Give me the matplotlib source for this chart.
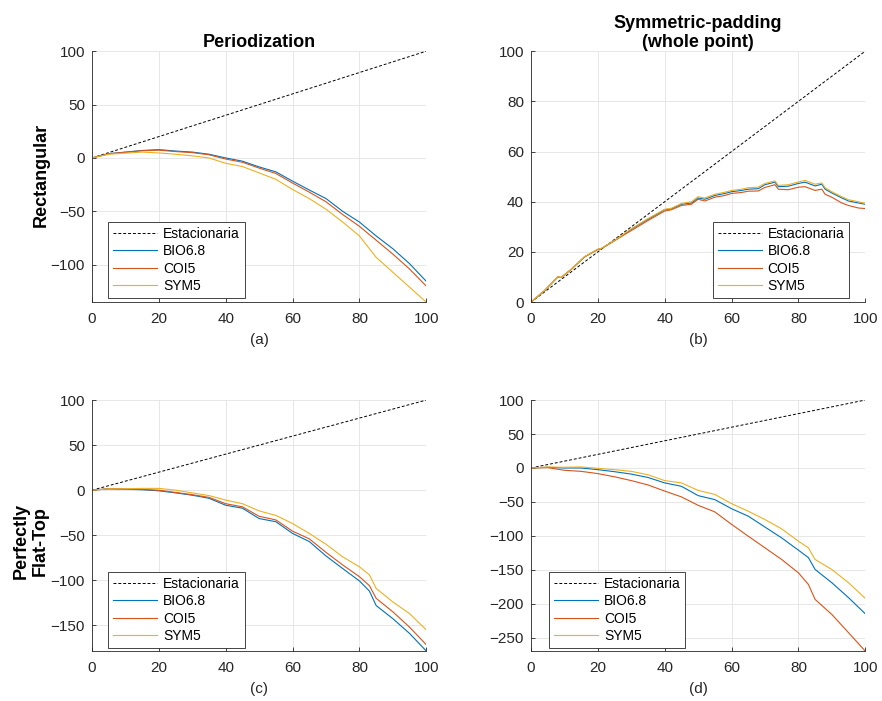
import numpy as np
import matplotlib
matplotlib.use("Agg")
import matplotlib.pyplot as plt

plt.rcParams['font.family'] = ['Liberation Sans', 'DejaVu Sans']

# panel (a) Rectangular / Periodization
x_a = [0, 5, 10, 15, 20, 25, 30, 35, 40, 45, 50, 55, 60, 65, 70, 75, 80, 85, 90, 95, 100]
bio_a = [0, 4, 5.5, 7, 7.8, 6.5, 5.5, 3.5, 0, -3, -8.4, -13, -21.7, -30, -38, -50, -60, -73, -85, -99, -115.5]
coi_a = [0, 4, 5.3, 6.8, 7.3, 6, 5, 3, -1, -4, -9.5, -14.5, -23.5, -32, -41, -53, -64, -77, -90, -104, -120]
sym_a = [0, 3.5, 4.5, 5.5, 4.7, 3.5, 2, 0, -5, -8, -14, -20, -29.5, -38, -48, -60, -73, -93, -107, -121, -135]

# panel (b) Rectangular / Symmetric-padding
x_b = [0, 4, 8, 9, 12, 16, 20, 21, 25, 30, 35, 40, 42, 45, 48, 50, 52, 55, 58, 60, 63, 65, 68, 70,
       73, 74, 77, 80, 82, 85, 87, 88, 90, 93, 95, 98, 100]
bio_b = [0, 4.5, 10, 9.8, 13, 18, 21, 21.3, 24.5, 29, 33, 36.8, 37.2, 39, 39.5, 41.5, 41, 42.5, 43.3, 44,
         44.5, 45, 45.2, 46.8, 47.8, 46, 46.2, 47.3, 47.8, 46.3, 47, 45, 43.5, 41.5, 40.3, 39.5, 39]
coi_b = [0, 4.5, 10, 9.8, 13, 18, 21, 21.3, 24.5, 28.5, 32.5, 36.3, 36.8, 38.5, 39, 41, 40.3, 41.8, 42.5, 43.3,
         43.7, 44.2, 44.3, 45.7, 46.8, 45, 44.8, 45.8, 46, 44.5, 45, 43, 41.8, 39.5, 38.5, 37.5, 37.3]
sym_b = [0, 4.6, 10.1, 9.9, 13.1, 18.1, 21.1, 21.4, 24.6, 29.2, 33.3, 37, 37.4, 39.3, 40, 42, 41.5, 43, 43.8, 44.5,
         45, 45.6, 45.8, 47.3, 48.3, 46.5, 46.8, 47.9, 48.5, 47, 47.5, 45.6, 44, 42, 40.8, 40, 39.4]

# panel (c) Perfectly Flat-Top / Periodization
x_c = [0, 5, 10, 15, 20, 25, 30, 35, 40, 45, 50, 55, 60, 65, 70, 75, 80, 83, 85, 90, 95, 100]
bio_c = [0, 1.5, 1, 0.5, -0.7, -3, -5.6, -9, -16.7, -20, -31.5, -35, -48, -57, -73, -87, -100.7, -112, -128, -142.6, -159, -178.5]
coi_c = [0, 1.5, 1.2, 0.8, 0, -2.5, -5, -8, -15, -18.5, -29, -33, -45.5, -54, -69, -83, -96, -106, -120, -135, -152, -171.5]
sym_c = [0, 1.5, 1.5, 2, 2, 0, -3, -6, -11, -15, -23, -28, -37, -48, -60, -74, -85, -94, -109, -124, -137, -155]

# panel (d) Perfectly Flat-Top / Symmetric-padding
x_d = [0, 5, 10, 15, 20, 25, 30, 35, 40, 45, 50, 55, 60, 65, 70, 75, 80, 83, 85, 90, 95, 100]
bio_d = [0, 1, 0, 0, -2.5, -5.5, -9, -14, -22, -27, -40.7, -46.6, -60, -71, -87, -103, -121, -132, -149.5, -169, -191, -214.7]
coi_d = [0, 0.5, -3.4, -5, -8.3, -13, -18.6, -25, -34, -42.6, -55, -64.7, -83, -100.5, -117.6, -134.8, -154.4, -171.6, -193.6, -215.7, -242.6, -269.6]
sym_d = [0, 1.5, 1, 1.5, -0.5, -2.5, -5, -10, -18.6, -22, -33, -39, -52.5, -63.7, -76, -89.7, -107.8, -117.6, -134.8, -149.5, -169, -192]

x_est = [0, 100]
y_est = [0, 100]

labels = ['Estacionaria', 'BIO6.8', 'COI5', 'SYM5']
colors = ['#0072BD', '#D95319', '#EDB120']
col_titles = ['Periodization', 'Symmetric-padding\n(whole point)']
row_titles = ['Rectangular', 'Perfectly\nFlat-Top']
panel_labels = ['(a)', '(b)', '(c)', '(d)']

panels = [
    (x_a, [bio_a, coi_a, sym_a], [-100, -50, 0, 50, 100], 'lower left', (0.048, 0.016)),
    (x_b, [bio_b, coi_b, sym_b], [0, 20, 40, 60, 80, 100], 'lower right', (0.952, 0.016)),
    (x_c, [bio_c, coi_c, sym_c], [-150, -100, -50, 0, 50, 100], 'lower left', (0.048, 0.012)),
    (x_d, [bio_d, coi_d, sym_d], [-250, -200, -150, -100, -50, 0, 50, 100], 'lower left', (0.054, 0.012)),
]

fig = plt.figure(figsize=(8.82, 7.01), dpi=100)
lefts = [0.1043, 0.602]
bottoms = [0.569, 0.0713]
w, h = 0.379, 0.358

txt = '#262626'
for i, (xs, ys, yt, loc, anchor) in enumerate(panels):
    r, c = divmod(i, 2)
    ax = fig.add_axes([lefts[c], bottoms[r], w, h])
    ax.plot(x_est, y_est, '--', color='k', lw=0.7, dashes=(3, 2), label=labels[0])
    for y, col, lab in zip(ys, colors, labels[1:]):
        ax.plot(xs, y, color=col, lw=0.8, label=lab)
    ymin = min(min(y) for y in ys)
    ax.set_xlim(0, 100)
    ax.set_ylim(min(ymin, 0), 100)
    ax.set_xticks([0, 20, 40, 60, 80, 100])
    ax.set_yticks(yt)
    ax.grid(True, color='#e3e3e3', lw=0.6)
    ax.set_axisbelow(True)
    for s in ['top', 'right']:
        ax.spines[s].set_visible(False)
    for s in ['left', 'bottom']:
        ax.spines[s].set_color(txt)
        ax.spines[s].set_linewidth(0.6)
    ax.tick_params(direction='in', length=3, width=0.6, labelsize=11, colors=txt)
    ax.tick_params(axis='x', pad=7)
    ax.tick_params(axis='y', pad=5)
    ax.set_xlabel(panel_labels[i], fontsize=11, color=txt, labelpad=5)
    if r == 0:
        ax.set_title(col_titles[c], fontsize=13, fontweight='bold', pad=2)
    leg = ax.legend(loc=loc, bbox_to_anchor=anchor, borderaxespad=0, fontsize=10,
                    fancybox=False, framealpha=1, edgecolor=txt, borderpad=0.35,
                    labelspacing=0.25, handlelength=3.2, handletextpad=0.4)
    leg.get_frame().set_linewidth(0.6)

fig.text(0.047, 0.75, row_titles[0], rotation=90, fontsize=13, fontweight='bold',
         ha='center', va='center')
fig.text(0.035, 0.228, row_titles[1], rotation=90, fontsize=13, fontweight='bold',
         ha='center', va='center', multialignment='center')

fig.savefig('out.png', dpi=100)
